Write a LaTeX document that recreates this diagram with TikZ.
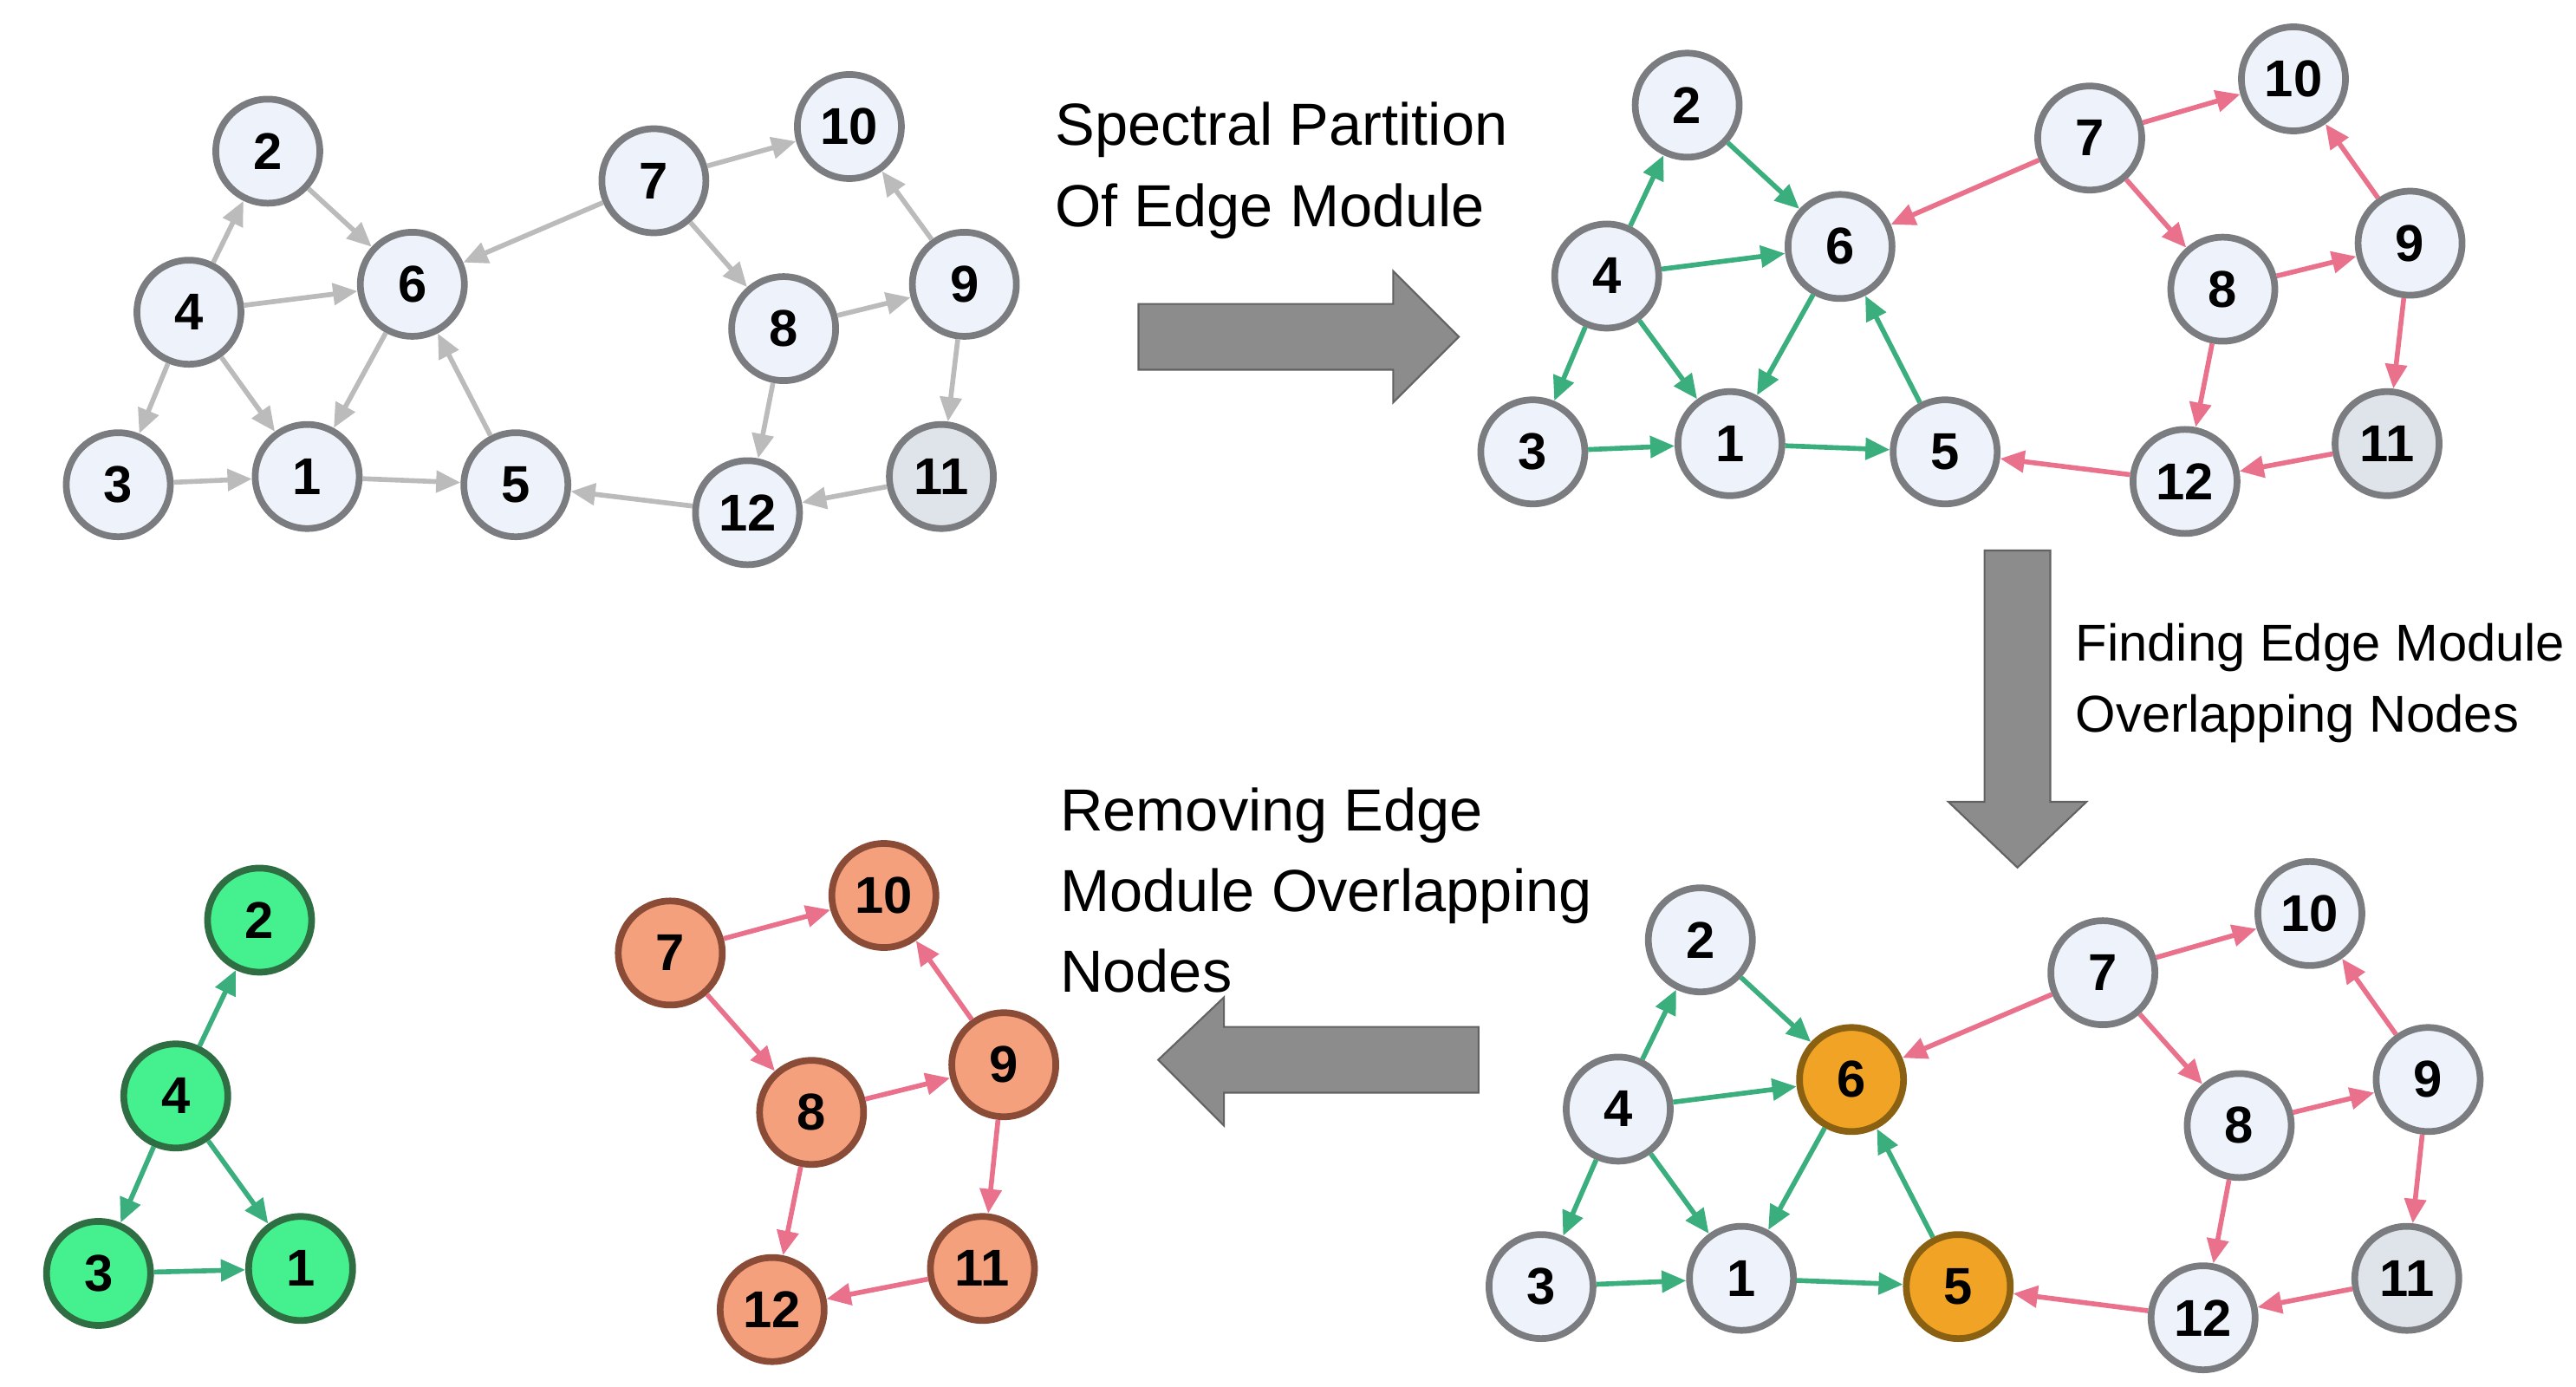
\documentclass[tikz,border=0pt]{standalone}
\usepackage{fontspec}
\setmainfont{Liberation Sans}
\usetikzlibrary{arrows.meta}
\definecolor{nodefill}{HTML}{EEF2FB}
\definecolor{darkfill}{HTML}{DFE3EA}
\definecolor{nodeline}{HTML}{7A7C80}
\definecolor{greyedge}{HTML}{BBBBBB}
\definecolor{greenedge}{HTML}{3AAE7C}
\definecolor{pinkedge}{HTML}{E9718C}
\definecolor{greenfill}{HTML}{45F08E}
\definecolor{greenline}{HTML}{2F6E43}
\definecolor{salmonfill}{HTML}{F5A07C}
\definecolor{salmonline}{HTML}{8A4B37}
\definecolor{amberfill}{HTML}{F0A324}
\definecolor{amberline}{HTML}{8A6112}
\definecolor{bigarrow}{HTML}{8C8C8C}
\tikzset{
  vtx/.style={circle,draw=nodeline,line width=2.2pt,fill=nodefill,minimum size=1.2cm,inner sep=0pt,font=\bfseries\fontsize{17}{17}\selectfont},
  vtxdark/.style={vtx,fill=darkfill},
  vtxgreen/.style={vtx,draw=greenline,fill=greenfill},
  vtxsalmon/.style={vtx,draw=salmonline,fill=salmonfill},
  vtxamber/.style={vtx,draw=amberline,fill=amberfill},
  edge/.style={line width=1.6pt,-{Triangle[length=8pt,width=7pt]}},
  gedge/.style={edge,greyedge},
  gredge/.style={edge,greenedge},
  pedge/.style={edge,pinkedge},
  steptext/.style={anchor=north west,inner sep=0pt,align=left,font=\fontsize{19.5}{26.5}\selectfont},
  blockarrow/.style={draw=bigarrow!70!black,line width=0.6pt,fill=bigarrow}
}
\begin{document}
\begin{tikzpicture}[x=0.018954cm,y=0.018954cm,yscale=-1]
\useasboundingbox (0,0) rectangle (1568,844);

% original graph
\node[vtx] (a1) at (187,290) {1};
\node[vtx] (a2) at (163,92) {2};
\node[vtx] (a3) at (72,295) {3};
\node[vtx] (a4) at (115,190) {4};
\node[vtx] (a5) at (314,295) {5};
\node[vtx] (a6) at (251,173) {6};
\node[vtx] (a7) at (398,110) {7};
\node[vtx] (a8) at (477,200) {8};
\node[vtx] (a9) at (587,173) {9};
\node[vtx] (a10) at (517,77) {10};
\node[vtxdark] (a11) at (573,290) {11};
\node[vtx] (a12) at (455,312) {12};
\foreach \s/\t in {4/2,2/6,4/6,4/3,4/1,6/1,3/1,1/5,5/6,7/6,7/10,7/8,8/9,9/10,9/11,11/12,8/12,12/5}
  \draw[gedge] (a\s) -- (a\t);

% partitioned graph
\node[vtx] (b1) at (1053,270) {1};
\node[vtx] (b2) at (1027,64) {2};
\node[vtx] (b3) at (933,275) {3};
\node[vtx] (b4) at (978,168) {4};
\node[vtx] (b5) at (1184,275) {5};
\node[vtx] (b6) at (1120,150) {6};
\node[vtx] (b7) at (1272,84) {7};
\node[vtx] (b8) at (1353,176) {8};
\node[vtx] (b9) at (1467,148) {9};
\node[vtx] (b10) at (1396,48) {10};
\node[vtxdark] (b11) at (1453,270) {11};
\node[vtx] (b12) at (1330,293) {12};
\foreach \s/\t in {4/2,2/6,4/6,4/3,4/1,6/1,3/1,1/5,5/6}
  \draw[gredge] (b\s) -- (b\t);
\foreach \s/\t in {7/6,7/10,7/8,8/9,9/10,9/11,11/12,8/12,12/5}
  \draw[pedge] (b\s) -- (b\t);

% overlapping nodes found
\node[vtx] (c1) at (1060,778) {1};
\node[vtx] (c2) at (1035,572) {2};
\node[vtx] (c3) at (938,783) {3};
\node[vtx] (c4) at (985,675) {4};
\node[vtxamber] (c5) at (1192,783) {5};
\node[vtxamber] (c6) at (1127,657) {6};
\node[vtx] (c7) at (1280,592) {7};
\node[vtx] (c8) at (1363,685) {8};
\node[vtx] (c9) at (1478,657) {9};
\node[vtx] (c10) at (1406,556) {10};
\node[vtxdark] (c11) at (1465,778) {11};
\node[vtx] (c12) at (1341,802) {12};
\foreach \s/\t in {4/2,2/6,4/6,4/3,4/1,6/1,3/1,1/5,5/6}
  \draw[gredge] (c\s) -- (c\t);
\foreach \s/\t in {7/6,7/10,7/8,8/9,9/10,9/11,11/12,8/12,12/5}
  \draw[pedge] (c\s) -- (c\t);

% resulting modules
\node[vtxgreen] (d1) at (183,772) {1};
\node[vtxgreen] (d2) at (158,560) {2};
\node[vtxgreen] (d3) at (60,775) {3};
\node[vtxgreen] (d4) at (107,667) {4};
\foreach \s/\t in {4/2,4/3,4/1,3/1}
  \draw[gredge] (d\s) -- (d\t);
\node[vtxsalmon] (e7) at (408,580) {7};
\node[vtxsalmon] (e8) at (494,677) {8};
\node[vtxsalmon] (e9) at (611,648) {9};
\node[vtxsalmon] (e10) at (538,545) {10};
\node[vtxsalmon] (e11) at (598,772) {11};
\node[vtxsalmon] (e12) at (470,797) {12};
\foreach \s/\t in {7/10,7/8,8/9,9/10,9/11,11/12,8/12}
  \draw[pedge] (e\s) -- (e\t);

% block arrows
\draw[blockarrow] (693,185) -- (848,185) -- (848,165) -- (888,205) -- (848,245) -- (848,225) -- (693,225) -- cycle;
\draw[blockarrow] (1208,335) -- (1248,335) -- (1248,488) -- (1270,488) -- (1228,528) -- (1186,488) -- (1208,488) -- cycle;
\draw[blockarrow] (900,625) -- (745,625) -- (745,607) -- (705,645) -- (745,685) -- (745,665) -- (900,665) -- cycle;

% step texts
\node[steptext] (t1) at (642,62) {Spectral Partition\\Of Edge Module};
\node[steptext,font=\fontsize{17}{23.5}\selectfont] (t2) at (1263,379) {Finding Edge Module\\Overlapping Nodes};
\node[steptext] (t3) at (645,479) {Removing Edge\\Module Overlapping\\Nodes};
\end{tikzpicture}
\end{document}
